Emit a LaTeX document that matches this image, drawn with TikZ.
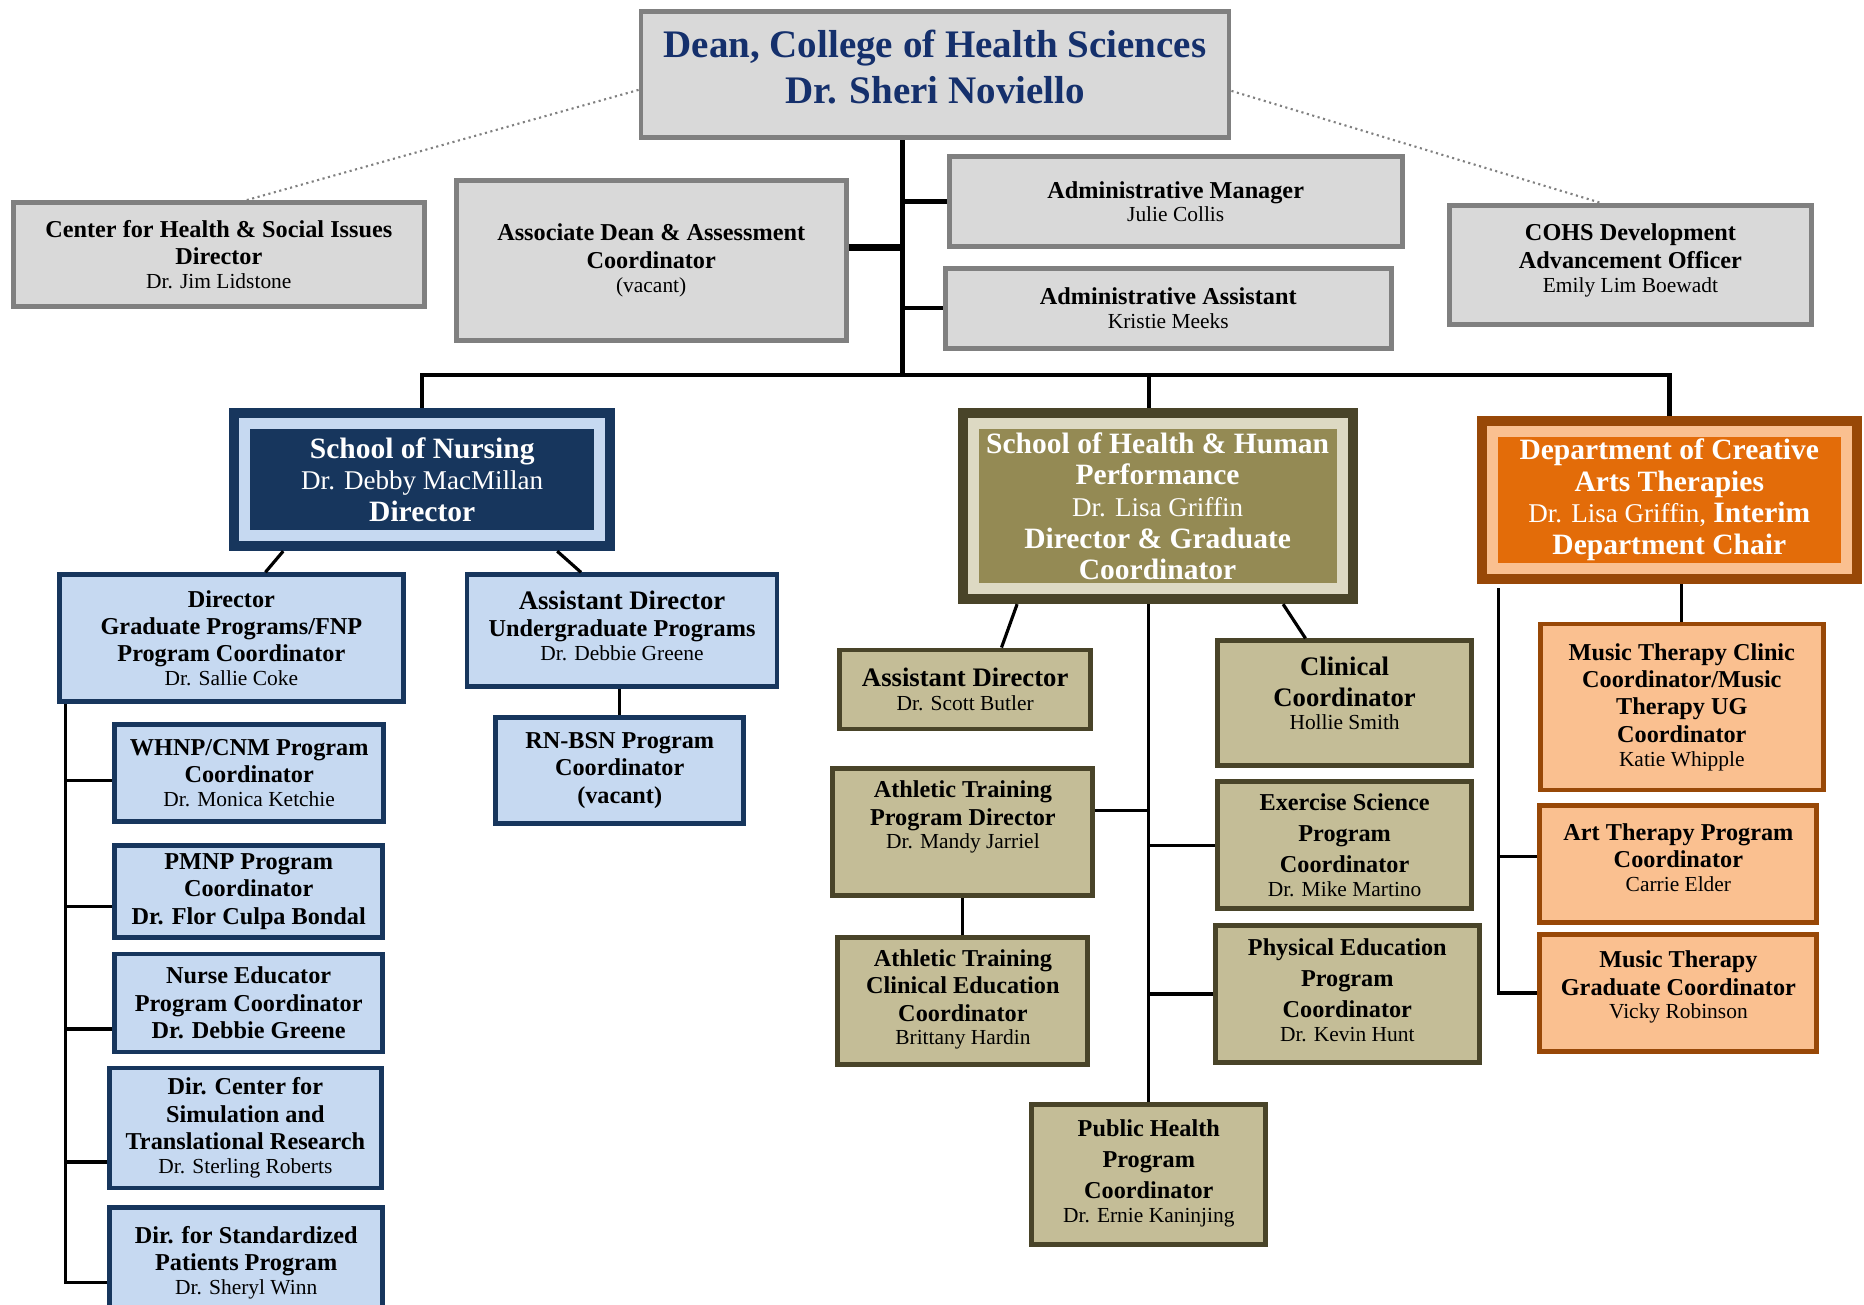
\documentclass[tikz,border=0pt]{standalone}
\usepackage{fontspec}
\setmainfont{Liberation Serif}
\usepackage{tikz}

\definecolor{deanblue}{HTML}{15306C}
\definecolor{boxgray}{HTML}{808080}
\definecolor{boxfill}{HTML}{D9D9D9}
\definecolor{nursenavy}{HTML}{17365D}
\definecolor{nurselight}{HTML}{C6D9F1}
\definecolor{hhpdark}{HTML}{494429}
\definecolor{hhplight}{HTML}{DDD9C3}
\definecolor{hhpfill}{HTML}{948A54}
\definecolor{hhpkhaki}{HTML}{C4BD97}
\definecolor{catdark}{HTML}{984807}
\definecolor{catlight}{HTML}{FAC090}
\definecolor{catfill}{HTML}{E36C09}

\newcommand{\who}[1]{\\[-1pt]{\mdseries\fontsize{6.1}{7}\selectfont #1}}
\newcommand{\leadtxt}[1]{{\fontsize{7.6}{8.8}\selectfont #1}}
\newcommand{\hname}[1]{{\mdseries\fontsize{7.7}{9}\selectfont #1}}
\newcommand{\pushup}[1]{\rule[-#1]{0pt}{#1}}

\begin{document}
\begin{tikzpicture}[
  every node/.style={align=center, inner sep=0pt, font=\bfseries\fontsize{6.9}{7.8}\selectfont},
  boxsize/.style 2 args={minimum width=#1cm, minimum height=#2cm},
  graybox/.style={draw=boxgray, fill=boxfill, line width=1.4pt},
  nursebox/.style={draw=nursenavy, fill=nurselight, line width=1.4pt},
  hhpbox/.style={draw=hhpdark, fill=hhpkhaki, line width=1.4pt},
  catbox/.style={draw=catdark, fill=catlight, line width=1.4pt},
  headbox/.style n args={3}{draw=#2, fill=#3, line width=3.1pt, outer sep=4.4pt, text=white,
    preaction={draw=#1, line width=8.8pt}, font=\bfseries\fontsize{8.4}{9}\selectfont},
  trunk/.style={line width=1.3pt},
  link/.style={line width=0.9pt},
  dotline/.style={densely dotted, line width=0.6pt, gray}
]
  \useasboundingbox (0,0) rectangle (18.64,-13.04);

  \node[graybox, boxsize={5.88}{1.26}, text=deanblue, font=\bfseries\fontsize{11.1}{13.2}\selectfont]
    (dean) at (9.35,-0.749) {Dean, College of Health Sciences\\Dr. Sheri Noviello\pushup{0.16cm}};

  \node[graybox, boxsize={4.11}{1.04}] (chsi) at (2.188,-2.545) {Center for Health \& Social Issues\\Director\who{Dr. Jim Lidstone}};
  \node[graybox, boxsize={3.90}{1.60}] (assoc) at (6.512,-2.602) {Associate Dean \& Assessment\\Coordinator\who{(vacant)}};
  \node[graybox, boxsize={4.53}{0.90}] (admmgr) at (11.757,-2.017) {Administrative Manager\who{Julie Collis}};
  \node[graybox, boxsize={4.46}{0.80}] (admasst) at (11.683,-3.082) {Administrative Assistant\who{Kristie Meeks}};
  \node[graybox, boxsize={3.62}{1.19}] (cohs) at (16.304,-2.647) {COHS Development\\Advancement Officer\who{Emily Lim Boewadt\pushup{0.13cm}}};

  \node[headbox={nursenavy}{nurselight}{nursenavy}, boxsize={3.55}{1.124}] (nursing) at (4.222,-4.795)
    {School of Nursing\\\hname{Dr. Debby MacMillan}\\Director};
  \node[nursebox, boxsize={3.44}{1.27}] (gradfnp) at (2.314,-6.382) {Director\\Graduate Programs/FNP\\Program Coordinator\who{Dr. Sallie Coke}};
  \node[nursebox, boxsize={3.10}{1.12}] (undergrad) at (6.22,-6.308) {\leadtxt{Assistant Director}\\Undergraduate Programs\who{Dr. Debbie Greene\pushup{0.1cm}}};
  \node[nursebox, boxsize={2.48}{1.06}] (rnbsn) at (6.197,-7.704) {RN-BSN Program\\Coordinator\\(vacant)};
  \node[nursebox, boxsize={2.69}{0.97}] (whnp) at (2.492,-7.732) {WHNP/CNM Program\\Coordinator\who{Dr. Monica Ketchie}};
  \node[nursebox, boxsize={2.68}{0.92}] (pmnp) at (2.487,-8.915) {PMNP Program\\Coordinator\\Dr. Flor Culpa Bondal};
  \node[nursebox, boxsize={2.68}{0.98}] (nurseed) at (2.487,-10.03) {Nurse Educator\\Program Coordinator\\Dr. Debbie Greene};
  \node[nursebox, boxsize={2.72}{1.20}] (simctr) at (2.454,-11.28) {Dir. Center for\\Simulation and\\Translational Research\who{Dr. Sterling Roberts}};
  \node[nursebox, boxsize={2.73}{1.10}] (stdpat) at (2.462,-12.625) {Dir. for Standardized\\Patients Program\who{Dr. Sheryl Winn}};

  \node[headbox={hhpdark}{hhplight}{hhpfill}, boxsize={3.69}{1.65}] (hhp) at (11.576,-5.062)
    {School of Health \& Human\\Performance\\\hname{Dr. Lisa Griffin}\\Director \& Graduate\\Coordinator};
  \node[hhpbox, boxsize={2.51}{0.79}] (asstdir) at (9.652,-6.895) {\leadtxt{Assistant Director}\who{Dr. Scott Butler}};
  \node[hhpbox, boxsize={2.54}{1.25}] (clinical) at (13.446,-7.033) {\leadtxt{Clinical}\\[1pt]\leadtxt{Coordinator}\who{Hollie Smith\pushup{0.2cm}}};
  \node[hhpbox, boxsize={2.60}{1.27}] (atpd) at (9.629,-8.319) {Athletic Training\\Program Director\who{Dr. Mandy Jarriel\pushup{0.34cm}}};
  \node[hhpbox, boxsize={2.54}{1.27}] (exsci) at (13.446,-8.452) {Exercise Science\\[1pt]Program\\[1pt]Coordinator\who{Dr. Mike Martino}};
  \node[hhpbox, boxsize={2.50}{1.27}] (atce) at (9.629,-10.012) {Athletic Training\\Clinical Education\\Coordinator\who{Brittany Hardin\pushup{0.08cm}}};
  \node[hhpbox, boxsize={2.64}{1.37}] (physed) at (13.473,-9.939) {Physical Education\\[1pt]Program\\[1pt]Coordinator\who{Dr. Kevin Hunt\pushup{0.08cm}}};
  \node[hhpbox, boxsize={2.34}{1.40}] (pubhealth) at (11.488,-11.748) {Public Health\\[1pt]Program\\[1pt]Coordinator\who{Dr. Ernie Kaninjing\pushup{0.08cm}}};

  \node[headbox={catdark}{catlight}{catfill}, boxsize={3.545}{1.373}] (cat) at (16.693,-4.999)
    {Department of Creative\\Arts Therapies\\\hname{Dr. Lisa Griffin,} Interim\\Department Chair};
  \node[catbox, boxsize={2.83}{1.66}] (mtclinic) at (16.818,-7.07) {Music Therapy Clinic\\Coordinator/Music\\Therapy UG\\Coordinator\who{Katie Whipple}};
  \node[catbox, boxsize={2.77}{1.17}] (arttherapy) at (16.784,-8.642) {Art Therapy Program\\Coordinator\who{Carrie Elder\pushup{0.13cm}}};
  \node[catbox, boxsize={2.77}{1.17}] (mtgrad) at (16.784,-9.929) {Music Therapy\\Graduate Coordinator\who{Vicky Robinson\pushup{0.16cm}}};

  \coordinate (bus) at (9.023,-3.75);
  \coordinate (assocjoin) at ([yshift=0.13cm]assoc.east);
  \draw[trunk] (dean.south -| bus) -- (bus);
  \draw[trunk] (nursing.north) |- (bus) -| (cat.north);
  \draw[trunk] (hhp.north -| pubhealth.north) -- (pubhealth.north |- bus);
  \draw[trunk] (admmgr.west) -- (admmgr.west -| bus);
  \draw[trunk] (admasst.west) -- (admasst.west -| bus);
  \draw[line width=2pt] (assocjoin) -- (assocjoin -| bus);
  \draw[dotline] ([yshift=-0.15cm]dean.west) -- ([xshift=0.28cm]chsi.north);
  \draw[dotline] ([yshift=-0.16cm]dean.east) -- ([xshift=-0.30cm]cohs.north);

  \draw[link] ([xshift=-1.39cm]nursing.south) -- ([xshift=0.34cm]gradfnp.north);
  \draw[link] ([xshift=1.35cm]nursing.south) -- ([xshift=-0.41cm]undergrad.north);
  \draw[link] (rnbsn.north) -- (rnbsn.north |- undergrad.south);
  \coordinate (nspine) at (0.653,-7.04);
  \foreach \n/\dy in {whnp/-0.07, pmnp/-0.15, nurseed/-0.26, simctr/-0.34, stdpat/-0.20}
    \draw[link] (nspine) |- ([yshift=\dy cm]\n.west);

  \draw[link] ([xshift=-1.405cm]hhp.south) -- ([xshift=0.363cm]asstdir.north);
  \draw[link] ([xshift=1.255cm]hhp.south) -- ([xshift=-0.391cm]clinical.north);
  \draw[link] (pubhealth.north) -- (pubhealth.north |- hhp.south);
  \draw[link] ([yshift=0.21cm]atpd.east) -| (pubhealth.north);
  \draw[link] (exsci.west) -| (pubhealth.north);
  \draw[link] (physed.west) -| (pubhealth.north);
  \draw[link] (atce.north) -- (atce.north |- atpd.south);

  \draw[link] (mtclinic.north) -- (mtclinic.north |- cat.south);
  \coordinate (cspine) at (14.989,-5.88);
  \draw[link] (cspine) |- ([yshift=0.075cm]arttherapy.west);
  \draw[link] (cspine) |- (mtgrad.west);
\end{tikzpicture}
\end{document}
